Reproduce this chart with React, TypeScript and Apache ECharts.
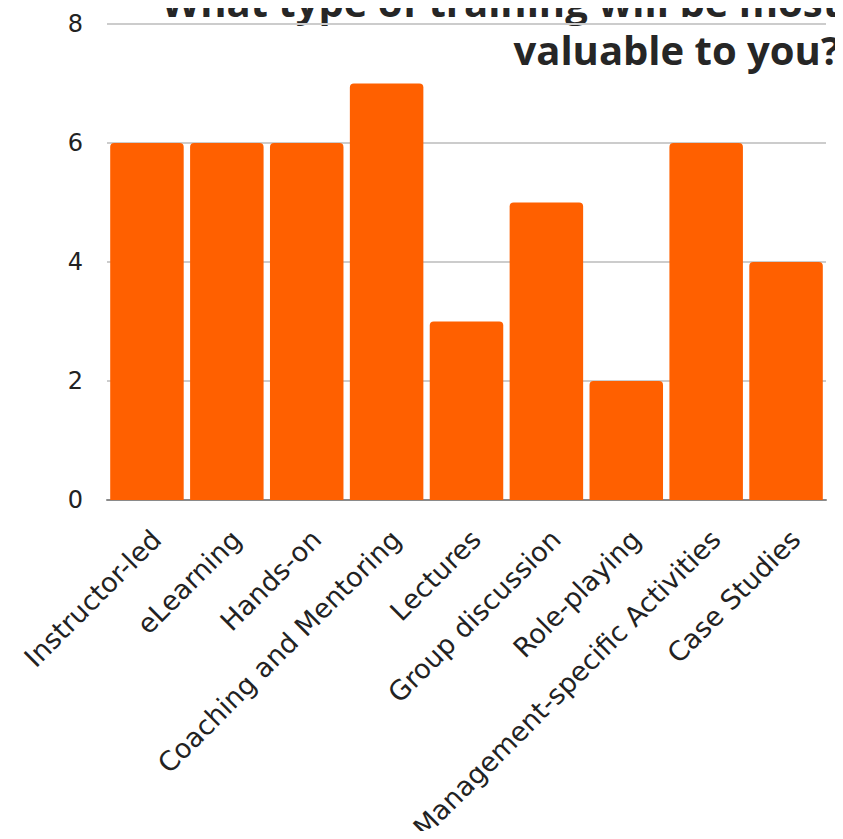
import React, { useEffect, useRef } from "react";
import * as echarts from "echarts";

const categories = [
  "Instructor-led",
  "eLearning",
  "Hands-on",
  "Coaching and Mentoring",
  "Lectures",
  "Group discussion",
  "Role-playing",
  "Management-specific Activities",
  "Case Studies",
];
const responses = [6, 6, 6, 7, 3, 5, 2, 6, 4];
const titleLines = ["What type of training will be most", "valuable to you?"];

const LABEL_FONT = "'DejaVu Sans', sans-serif";
const TITLE_FONT = "'Open Sans', sans-serif";

export default function App() {
  const ref = useRef<HTMLDivElement>(null);

  useEffect(() => {
    if (!ref.current) return;
    const chart = echarts.init(ref.current, null, { renderer: "svg" });
    chart.setOption({
      animation: false,
      grid: {
        left: 107,
        right: 17,
        top: 24,
        bottom: 339,
        containLabel: false,
        outerBoundsMode: "none",
      },
      xAxis: {
        type: "category",
        data: categories,
        axisTick: { show: false },
        axisLine: { lineStyle: { color: "#8a8a8a", width: 2 } },
        axisLabel: {
          rotate: 45,
          interval: 0,
          margin: 25,
          fontSize: 27,
          fontFamily: LABEL_FONT,
          color: "#222",
          verticalAlign: "top",
        },
      },
      yAxis: {
        type: "value",
        min: 0,
        max: 8,
        interval: 2,
        axisLine: { show: false },
        axisTick: { show: false },
        splitLine: { lineStyle: { color: "#cccccc", width: 2 } },
        axisLabel: {
          margin: 24,
          fontSize: 24,
          fontFamily: LABEL_FONT,
          color: "#222",
        },
      },
      series: [
        {
          type: "bar",
          data: responses,
          barCategoryGap: "8%",
          itemStyle: { color: "#ff6000", borderRadius: [4, 4, 0, 0] },
        },
      ],
      graphic: [
        {
          type: "text",
          x: 840,
          y: 1,
          style: {
            text: titleLines[0],
            align: "right",
            verticalAlign: "middle",
            font: `bold 40px ${TITLE_FONT}`,
            fill: "#262626",
          },
        },
        {
          type: "text",
          x: 840,
          y: 49,
          style: {
            text: titleLines[1],
            align: "right",
            verticalAlign: "middle",
            font: `bold 40px ${TITLE_FONT}`,
            fill: "#262626",
          },
        },
      ],
    });
    return () => chart.dispose();
  }, []);

  return <div ref={ref} style={{ width: 843, height: 839, margin: -8 }} />;
}
